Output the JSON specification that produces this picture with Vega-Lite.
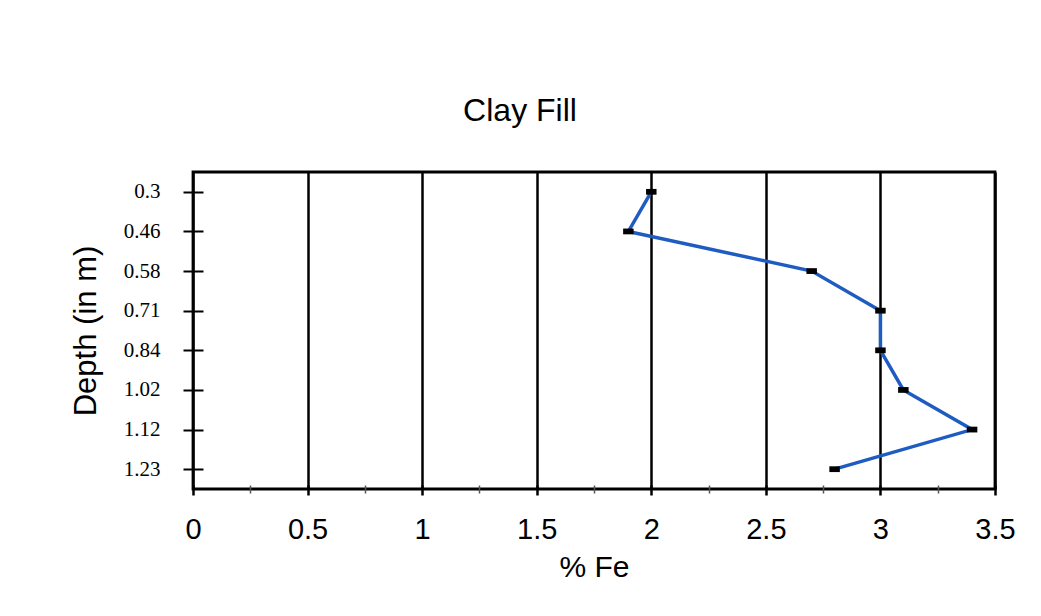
{
  "$schema": "https://vega.github.io/schema/vega-lite/v6.json",
  "width": 802,
  "height": 317,
  "autosize": {"type": "none"},
  "padding": {"left": 193, "top": 172, "right": 46, "bottom": 127},
  "background": "white",
  "title": {
    "text": "Clay Fill",
    "font": "Liberation Sans",
    "fontSize": 32,
    "fontWeight": "normal",
    "color": "black",
    "anchor": "middle",
    "dx": -74,
    "offset": 44
  },
  "data": {
    "values": [
      {"depth": 0.3, "label": "0.3", "fe": 2.0},
      {"depth": 0.46, "label": "0.46", "fe": 1.9},
      {"depth": 0.58, "label": "0.58", "fe": 2.7},
      {"depth": 0.71, "label": "0.71", "fe": 3.0},
      {"depth": 0.84, "label": "0.84", "fe": 3.0},
      {"depth": 1.02, "label": "1.02", "fe": 3.1},
      {"depth": 1.12, "label": "1.12", "fe": 3.4},
      {"depth": 1.23, "label": "1.23", "fe": 2.8}
    ]
  },
  "encoding": {
    "x": {
      "field": "fe",
      "type": "quantitative",
      "scale": {"domain": [0, 3.5], "nice": false, "zero": true},
      "axis": {
        "title": "% Fe",
        "values": [0, 0.25, 0.5, 0.75, 1, 1.25, 1.5, 1.75, 2, 2.25, 2.5, 2.75, 3, 3.25, 3.5],
        "format": ".2~f",
        "labelExpr": "datum.value % 0.5 === 0 ? datum.label : ''",
        "grid": true,
        "gridColor": {"condition": {"test": "datum.value % 0.5 !== 0", "value": "transparent"}, "value": "black"},
        "gridWidth": 2.5,
        "gridOpacity": 1,
        "domain": false,
        "offset": -4,
        "tickSize": {"condition": {"test": "datum.value % 0.5 !== 0", "value": 8}, "value": 10},
        "tickWidth": {"condition": {"test": "datum.value % 0.5 !== 0", "value": 1.5}, "value": 2.5},
        "tickColor": {"condition": {"test": "datum.value % 0.5 !== 0", "value": "#555"}, "value": "black"},
        "labelFont": "Liberation Sans",
        "labelFontSize": 29,
        "labelColor": "black",
        "labelPadding": 20,
        "labelFlush": false,
        "labelOverlap": false,
        "titleFont": "Liberation Sans",
        "titleFontSize": 30,
        "titleFontWeight": "normal",
        "titleColor": "black",
        "titlePadding": 8
      }
    },
    "y": {
      "field": "label",
      "type": "ordinal",
      "sort": null,
      "scale": {"type": "point", "padding": 0.5},
      "axis": {
        "title": "Depth (in m)",
        "domain": false,
        "offset": -10,
        "tickSize": 20,
        "tickWidth": 2,
        "tickColor": "black",
        "labelFont": "Liberation Serif",
        "labelFontSize": 21,
        "labelColor": "black",
        "labelPadding": 23,
        "titleFont": "Liberation Sans",
        "titleFontSize": 31,
        "titleFontWeight": "normal",
        "titleColor": "black",
        "titlePadding": 21
      }
    }
  },
  "layer": [
    {
      "mark": {"type": "line", "color": "#1f5cc2", "strokeWidth": 3.5},
      "encoding": {"order": {"field": "depth", "type": "quantitative"}}
    },
    {
      "mark": {"type": "point", "shape": "M-1,-0.55H1V0.55H-1Z", "size": 110, "filled": true, "color": "black", "opacity": 1}
    }
  ],
  "config": {
    "view": {"stroke": "black", "strokeWidth": 2.8}
  }
}
